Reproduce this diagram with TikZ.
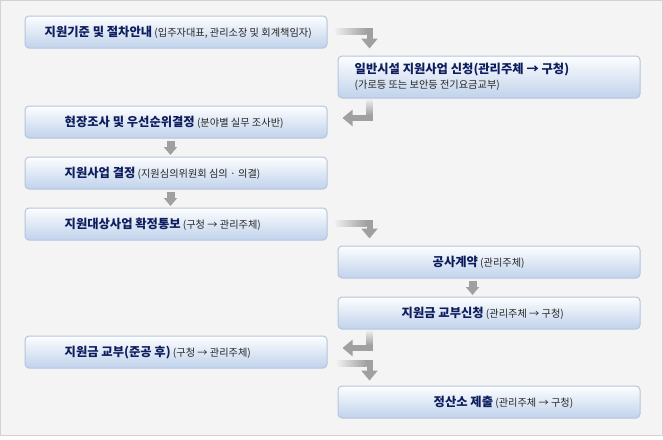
\documentclass[tikz,border=0pt]{standalone}
\usepackage{xcolor}
\usepackage{fontspec}
\newfontfamily\krfont{Noto Sans CJK KR}
\usepackage{tikz}
\usetikzlibrary{arrows.meta,positioning,calc}

\definecolor{pagebg}{HTML}{F4F4F4}
\definecolor{frameline}{HTML}{D2D2D2}
\definecolor{boxline}{HTML}{B5C5DC}
\definecolor{boxtop}{HTML}{FDFEFF}
\definecolor{boxbot}{HTML}{C0D2EB}
\definecolor{navy}{HTML}{0D1D5E}
\definecolor{subgray}{HTML}{262626}
\definecolor{flowgray}{HTML}{A0A0A0}
\definecolor{flowlight}{HTML}{EEEEEE}

\newcommand{\mainlabel}[1]{{\fontsize{12.3}{14}\selectfont\bfseries\color{navy}#1}}
\newcommand{\sublabel}[2][10.2]{{\fontsize{#1}{14}\selectfont\color{subgray}#2}}

\begin{document}
\begin{tikzpicture}[
    x=1pt, y=-1pt,
    stepbox/.style={rectangle, draw=boxline, line width=1pt, rounded corners=4pt, top color=boxtop, bottom color=boxbot, minimum width=302pt, minimum height=32pt, inner sep=0pt},
    steptext/.style={anchor=west, inner sep=0pt, font=\krfont},
    flow/.style={draw=flowgray, line width=6pt, line join=miter, -{Triangle[width=16pt,length=10pt]}},
    shortflow/.style={draw=flowgray, line width=8pt, -{Triangle[width=13pt,length=8pt]}}
]
\useasboundingbox (0,0) rectangle (663,439);
\fill[white] (0,0) rectangle (663,439);
\draw[frameline, fill=pagebg] (0.5,0.5) rectangle (662.5,435.5);

% Steps
\node[stepbox] (s1) at (176,32) {};
\node[stepbox, minimum height=42pt] (s2) at (489,77) {};
\node[stepbox] (s3) at (176,122) {};
\node[stepbox, below=18pt of s3] (s4) {};
\node[stepbox, below=18pt of s4] (s5) {};
\node[stepbox] (s6) at (489,262) {};
\node[stepbox, below=18pt of s6] (s7) {};
\node[stepbox] (s8) at (176,352) {};
\node[stepbox] (s9) at (489,402) {};

% Step texts
\node[steptext] (t1) at ([xshift=20pt,yshift=-0.5pt]s1.west) {\mainlabel{지원기준 및 절차안내} \sublabel{(입주자대표, 관리소장 및 회계책임자)}};
\node[steptext, align=left] (t2) at ([xshift=17pt]s2.west) {\mainlabel{일반시설 지원사업 신청(관리주체 → 구청)}\\[3pt]\sublabel{(가로등 또는 보안등 전기요금교부)}};
\node[steptext] (t3) at ([xshift=40pt,yshift=-0.5pt]s3.west) {\mainlabel{현장조사 및 우선순위결정} \sublabel{(분야별 실무 조사반)}};
\node[steptext] (t4) at ([xshift=40pt,yshift=-0.5pt]s4.west) {\mainlabel{지원사업 결정} \sublabel{(지원심의위원회 심의 · 의결)}};
\node[steptext] (t5) at ([xshift=40pt,yshift=-0.5pt]s5.west) {\mainlabel{지원대상사업 확정통보} \sublabel{(구청 → 관리주체)}};
\node[steptext] (t6) at ([xshift=95pt,yshift=-0.5pt]s6.west) {\mainlabel{공사계약} \sublabel{(관리주체)}};
\node[steptext] (t7) at ([xshift=64pt,yshift=-0.5pt]s7.west) {\mainlabel{지원금 교부신청} \sublabel{(관리주체 → 구청)}};
\node[steptext] (t8) at ([xshift=40pt,yshift=-0.5pt]s8.west) {\mainlabel{지원금 교부(준공 후)} \sublabel{(구청 → 관리주체)}};
\node[steptext] (t9) at ([xshift=96pt,yshift=-0.5pt]s9.west) {\mainlabel{정산소 제출} \sublabel{(관리주체 → 구청)}};

% s1 -> s2
\coordinate (a1) at ($(s1.east)+(8,-1)$);
\coordinate (a1k) at ($(s2.north west)+(32,0)$);
\draw[flow] (a1) -| ($(a1k)+(0,-7)$);
\shade[left color=flowlight, right color=flowgray] ($(a1)+(0,-3)$) rectangle ($(a1 -| a1k)+(-3,3)$);

% s2 -> s3
\coordinate (b1) at ($(s2.south west)+(32,1)$);
\coordinate (b1t) at ($(s3.east)+(15,-4)$);
\draw[flow] (b1) |- (b1t);
\shade[top color=flowlight, bottom color=flowgray] ($(b1)+(-3,0)$) rectangle ($(b1 |- b1t)+(3,-3)$);

% s3 -> s4 -> s5
\draw[shortflow] ($(s3.south west)+(146,2)$) -- ($(s4.north west)+(146,-1.5)$);
\draw[shortflow] ($(s4.south west)+(146,2)$) -- ($(s5.north west)+(146,-1.5)$);

% s5 -> s6
\coordinate (e1) at ($(s5.east)+(8,-1)$);
\coordinate (e1k) at ($(s6.north west)+(32,0)$);
\draw[flow] (e1) -| ($(e1k)+(0,-7)$);
\shade[left color=flowlight, right color=flowgray] ($(e1)+(0,-3)$) rectangle ($(e1 -| e1k)+(-3,3)$);

% s6 -> s7
\draw[shortflow] ($(s6.south west)+(135,2)$) -- ($(s7.north west)+(135,-1.5)$);

% s7 -> s8
\coordinate (g1) at ($(s7.south west)+(32,1)$);
\coordinate (g1t) at ($(s8.east)+(15,-4)$);
\draw[flow] (g1) |- (g1t);
\shade[top color=flowlight, bottom color=flowgray] ($(g1)+(-3,0)$) rectangle ($(g1 |- g1t)+(3,-3)$);

% s8 -> s9
\coordinate (h1) at ($(s8.east)+(10,11)$);
\coordinate (h1k) at ($(s9.north west)+(32,0)$);
\draw[flow] (h1) -| ($(h1k)+(0,-5)$);
\shade[left color=flowlight, right color=flowgray] ($(h1)+(0,-3)$) rectangle ($(h1 -| h1k)+(-3,3)$);

\end{tikzpicture}
\end{document}
